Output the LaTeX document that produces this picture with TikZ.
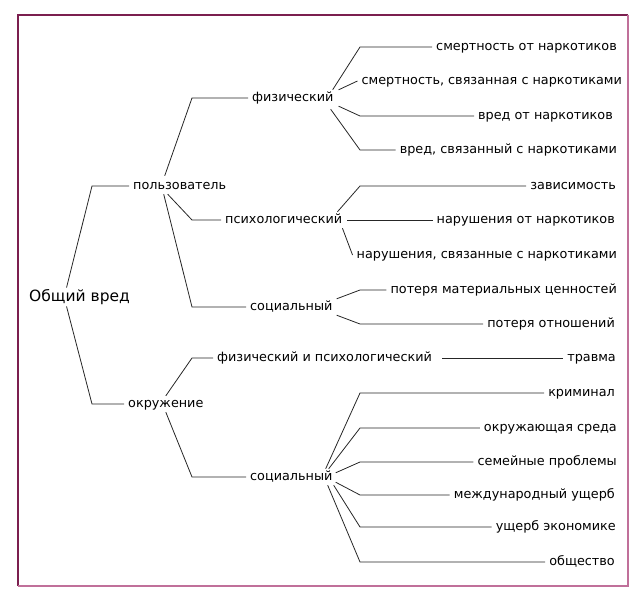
\documentclass[tikz,border=0pt]{standalone}
\usepackage{fontspec}
\setmainfont{DejaVu Sans}
\usetikzlibrary{positioning}

\definecolor{framedark}{RGB}{123,31,79}
\definecolor{framelight}{RGB}{192,112,154}

\begin{document}
\begin{tikzpicture}[x=1pt,y=-1pt]

\tikzset{item/.style = {inner xsep=4pt, inner ysep=2pt, text height=9.5pt, text depth=2.5pt, font=\fontsize{12.8}{14}\selectfont}}
\tikzset{branch/.style = {item, anchor=west}}
\tikzset{leaf/.style = {item, anchor=east}}
\tikzset{link/.style = {draw=black!85, line width=0.8pt}}

\useasboundingbox (0,0) rectangle (642,596);
% frame
\draw[framedark, line width=1.2pt] (18,586) -- (18,15) -- (628,15);
\draw[framelight, line width=1.2pt] (628,15) -- (628,586) -- (18,586);

% bends
\coordinate (k1) at (92,0);
\coordinate (k2) at (192,0);
\coordinate (k3) at (360,0);

% vertices
\node[branch, text height=11.5pt, text depth=3pt, font=\fontsize{15.5}{18}\selectfont] (root) at (25,297) {Общий вред};
\node[branch] (user) at (129,186) {пользователь};
\node[branch] (env) at (124,404) {окружение};
\node[branch] (ufiz) at (248,98) {физический};
\node[branch] (upsy) at (221,220) {психологический};
\node[branch] (usoc) at (246,307) {социальный};
\node[branch] (efp) at (213,358) {физический и психологический};
\node[branch] (esoc) at (246,477) {социальный};

\node[leaf] (f1) at (621,47) {смертность от наркотиков};
\node[leaf] (f2) at (626,81) {смертность, связанная с наркотиками};
\node[leaf] (f3) at (617,116) {вред от наркотиков};
\node[leaf] (f4) at (621,150) {вред, связанный с наркотиками};
\node[leaf] (p1) at (620,186) {зависимость};
\node[leaf] (p2) at (619,220) {нарушения от наркотиков};
\node[leaf] (p3) at (621,255) {нарушения, связанные с наркотиками};
\node[leaf] (s1) at (621,290) {потеря материальных ценностей};
\node[leaf] (s2) at (619,324) {потеря отношений};
\node[leaf] (t1) at (620,358) {травма};
\node[leaf] (e1) at (619,393) {криминал};
\node[leaf] (e2) at (621,428) {окружающая среда};
\node[leaf] (e3) at (621,462) {семейные проблемы};
\node[leaf] (e4) at (619,495) {международный ущерб};
\node[leaf] (e5) at (620,527) {ущерб экономике};
\node[leaf] (e6) at (619,562) {общество};

%edges
\draw[link] ([xshift=-13pt]root.north) -- (user.west -| k1) -- (user.west);
\draw[link] ([xshift=-13pt]root.south) -- (env.west -| k1) -- (env.west);

\draw[link] ([xshift=-15pt,yshift=2pt]user.north) -- (ufiz.west -| k2) -- (ufiz.west);
\draw[link] ([xshift=-12pt]user.south) -- (upsy.west -| k2) -- (upsy.west);
\draw[link] ([xshift=-16pt]user.south) -- (usoc.west -| k2) -- (usoc.west);
\draw[link] (env.north) -- (efp.west -| k2) -- (efp.west);
\draw[link] (env.south) -- (esoc.west -| k2) -- (esoc.west);

\draw[link] ([xshift=-5pt]ufiz.north east) -- (f1.west -| k3) -- (f1.west);
\draw[link] ([xshift=1pt]ufiz.north east) -- (f2.west);
\draw[link] ([xshift=1pt]ufiz.south east) -- (f3.west -| k3) -- (f3.west);
\draw[link] ([xshift=-7pt,yshift=-3pt]ufiz.south east) -- (f4.west -| k3) -- (f4.west);

\draw[link] ([xshift=-9pt]upsy.north east) -- (p1.west -| k3) -- (p1.west);
\draw[link] ([xshift=1pt]upsy.east) -- (p2.west);
\draw[link] ([xshift=-4pt]upsy.south east) -- (p3.west);

\draw[link] (usoc.north east) -- (s1.west -| k3) -- (s1.west);
\draw[link] (usoc.south east) -- (s2.west -| k3) -- (s2.west);

\draw[link] ([xshift=6pt]efp.east) -- (t1.west);

\draw[link] ([xshift=-11pt]esoc.north east) -- (e1.west -| k3) -- (e1.west);
\draw[link] ([xshift=-8pt]esoc.north east) -- (e2.west -| k3) -- (e2.west);
\draw[link] ([xshift=-1pt,yshift=-4pt]esoc.north east) -- (e3.west -| k3) -- (e3.west);
\draw[link] ([xshift=-1pt,yshift=3pt]esoc.south east) -- (e4.west -| k3) -- (e4.west);
\draw[link] ([xshift=-3pt]esoc.south east) -- (e5.west -| k3) -- (e5.west);
\draw[link] ([xshift=-9pt]esoc.south east) -- (e6.west -| k3) -- (e6.west);

\end{tikzpicture}
\end{document}
